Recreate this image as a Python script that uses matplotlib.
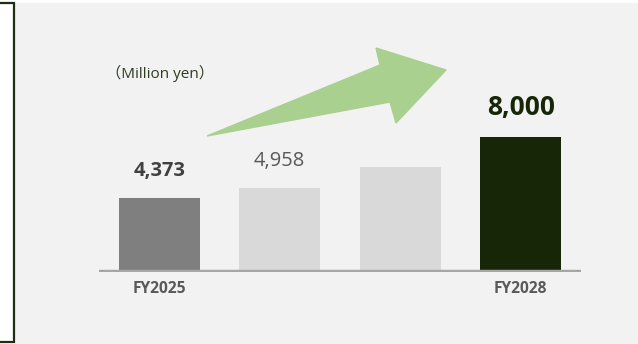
import matplotlib.pyplot as plt
from matplotlib.patches import Rectangle, Polygon

# data
years = ['FY2025', 'FY2026', 'FY2027', 'FY2028']
tick_labels = ['FY2025', '', '', 'FY2028']
sales = [4373, 4958, 6200, 8000]
value_labels = ['4,373', '4,958', '', '8,000']

bar_colors = ['#7f7f7f', '#d9d9d9', '#d9d9d9', '#172606']
label_colors = ['#404040', '#595959', '#595959', '#172606']
label_weights = ['bold', 'normal', 'normal', 'bold']
label_sizes = [14.5, 14.5, 14.5, 19]

plt.rcParams['font.family'] = ['Open Sans', 'Noto Sans CJK JP', 'DejaVu Sans']

W, H = 638, 344
fig = plt.figure(figsize=(W / 100, H / 100), dpi=100)
fig.patch.set_facecolor('white')

# light gray panel and the edge of the neighbouring box on the left
fig.patches.append(Rectangle((15 / W, 0), 1 - 15 / W, 1 - 3 / H,
                             transform=fig.transFigure, color='#f2f2f2', zorder=-2))
fig.patches.append(Rectangle((-20 / W, 2 / H), 34 / W, 1 - 5 / H,
                             transform=fig.transFigure, facecolor='white',
                             edgecolor='#1f2d10', linewidth=1.6, zorder=-2))

# axes: baseline at y=272 px, x from 99 to 581 px
base_px = 272
ax = fig.add_axes([99 / W, (H - base_px) / H, 482 / W, 270 / H])
ax.set_zorder(1)
ax.set_facecolor('none')
pos = range(len(sales))
ax.bar(pos, sales, width=0.67, color=bar_colors, zorder=2)
ax.axhline(0, color='#a6a6a6', linewidth=3.2, zorder=3)
ax.set_xlim(-0.5, 3.5)
ax.set_ylim(0, 16000)

for i, v in enumerate(sales):
    if value_labels[i]:
        ax.annotate(value_labels[i], (i, v), xytext=(0, 16), textcoords='offset points',
                    ha='center', va='baseline', fontsize=label_sizes[i],
                    fontweight=label_weights[i], color=label_colors[i])

ax.set_xticks(list(pos))
ax.set_xticklabels(tick_labels, fontsize=11.2, fontweight='bold', color='#595959')
ax.tick_params(axis='x', length=0, pad=6.5)
ax.set_yticks([])
for s in ax.spines.values():
    s.set_visible(False)

# unit note
fig.text(160 / W, 1 - 73 / H, '（Million yen）', ha='center', va='center',
         fontsize=11, color='#2d3b1f')

# big growth arrow (figure pixel coords)
arrow_px = [(207, 136), (380, 65), (376, 48), (446, 70), (396, 123), (390, 102)]
fig.patches.append(Polygon([(x / W, 1 - y / H) for x, y in arrow_px], closed=True,
                           transform=fig.transFigure, color='#a9d08e', zorder=2))

plt.savefig('out.png', dpi=100)
